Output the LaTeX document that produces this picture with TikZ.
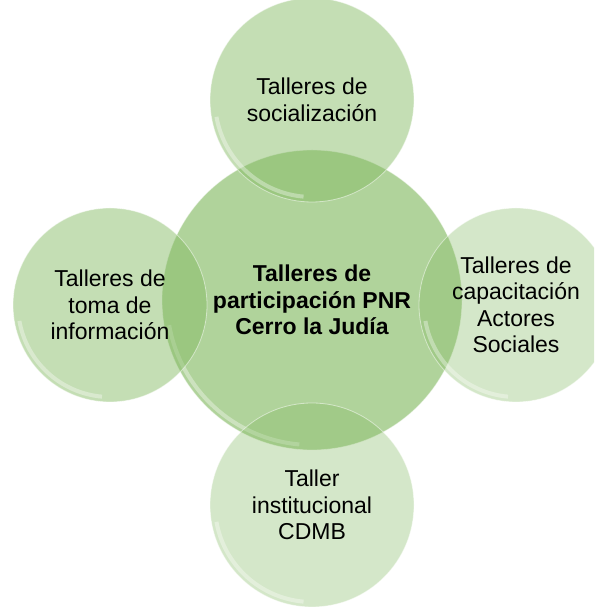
\documentclass[tikz,border=0pt]{standalone}
\usepackage{fontspec}
\setmainfont{Liberation Sans}
\definecolor{leaf}{RGB}{132,186,99}

\tikzset{
  bubble/.style={circle, minimum size=#1, inner sep=0pt, align=center,
    fill=leaf, text=black, text opacity=1,
    draw=white, draw opacity=.5, line width=.8pt,
    font=\fontsize{23}{26.5}\selectfont,
    path picture={\draw[white, line width=4pt, opacity=.35]
      ([shift={(190:{#1/2-5pt})}]path picture bounding box.center)
      arc[start angle=190, end angle=265, radius={#1/2-5pt}];}},
}

\begin{document}
\begin{tikzpicture}[x=1pt, y=1pt]
  \useasboundingbox (0,0) rectangle (594,609);
  \clip (0,0) rectangle (594,609);
  \node[bubble=300pt, fill opacity=.64, font=\fontsize{23}{26.5}\selectfont\bfseries] (core) at (312,309)
    {Talleres de\\participación PNR\\Cerro la Judía};
  \node[bubble=204pt, fill opacity=.48] (top) at (312,509) {Talleres de\\socialización};
  \node[bubble=194pt, fill opacity=.48] (left) at (110,304) {Talleres de\\toma de\\información};
  \node[bubble=194pt, fill opacity=.35] (right) at (516,304) {Talleres de\\capacitación\\Actores\\Sociales};
  \node[bubble=204pt, fill opacity=.35] (bottom) at (312,104) {Taller\\institucional\\CDMB};
\end{tikzpicture}
\end{document}
